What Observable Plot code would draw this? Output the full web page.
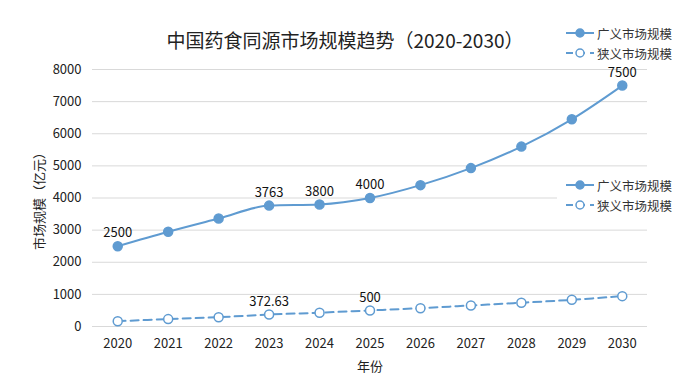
<!DOCTYPE html>
<html>
<head>
<meta charset="utf-8">
<script src="https://cdn.jsdelivr.net/npm/d3@7"></script>
<script src="https://cdn.jsdelivr.net/npm/@observablehq/plot@0.6"></script>
<style>
  body { margin: 0; background: #fff; }
  #wrap { position: relative; width: 700px; height: 391px; overflow: hidden; background: #fff;
          font-family: "Noto Sans CJK SC", "Noto Sans", sans-serif; color: #333; }
  #title { position: absolute; left: 0; top: 26px; width: 690px; text-align: center;
           font-size: 19px; line-height: 28px; color: #222; }
  #chart { position: absolute; left: 0; top: 55px; }
  .legend { position: absolute; background: #fff; font-size: 12.5px; color: #333; }
  .legend .row { display: flex; align-items: center; height: 20px; }
  .legend svg { margin-right: 2px; }
</style>
</head>
<body>
<div id="wrap">
  <div id="title">中国药食同源市场规模趋势（2020-2030）</div>
  <div id="chart"></div>
  <div class="legend" id="legend1" style="left:563px; top:23px; padding:0 4px 0 2px;"></div>
  <div class="legend" id="legend2" style="left:557px; top:174px; padding:1px 8px 3px 8px;"></div>
</div>
<script>
const years = [2020, 2021, 2022, 2023, 2024, 2025, 2026, 2027, 2028, 2029, 2030];
const broad = [2500, 2950, 3360, 3763, 3800, 4000, 4400, 4930, 5600, 6450, 7500];
const narrow = [165, 230, 290, 372.63, 430, 500, 570, 655, 740, 830, 945];
const broadLabelYears = [2020, 2023, 2024, 2025, 2030];
const narrowLabelYears = [2023, 2025];
const seriesNames = ["广义市场规模", "狭义市场规模"];
const yTicks = [0, 1000, 2000, 3000, 4000, 5000, 6000, 7000, 8000];

const color = "#5f9bd1";
const broadData = years.map((y, i) => ({year: y, value: broad[i]}));
const narrowData = years.map((y, i) => ({year: y, value: narrow[i]}));

const chart = Plot.plot({
  width: 700,
  height: 336,
  marginLeft: 92,
  marginRight: 53,
  marginTop: 14,
  marginBottom: 65,
  style: {fontFamily: '"Noto Sans CJK SC", "Noto Sans", sans-serif', fontSize: "13px", color: "#222", background: "transparent"},
  x: {domain: [2019.5, 2030.5]},
  y: {domain: [0, 8000]},
  marks: [
    Plot.gridY(yTicks, {stroke: "#d9d9d9", strokeOpacity: 1, strokeWidth: 1}),
    Plot.axisX({ticks: years, tickFormat: "d", tickSize: 0, tickPadding: 12, label: "年份", labelAnchor: "center", labelArrow: "none", labelOffset: 44, fill: "#222", fontSize: 13}),
    Plot.axisY({ticks: yTicks, tickFormat: "d", tickSize: 0, tickPadding: 11, label: "市场规模（亿元）", labelAnchor: "center", labelArrow: "none", labelOffset: 58, fill: "#222", fontSize: 13}),
    Plot.line(narrowData, {x: "year", y: "value", stroke: color, strokeWidth: 2, strokeDasharray: "8,5", curve: "catmull-rom"}),
    Plot.dot(narrowData, {x: "year", y: "value", r: 4.5, stroke: color, strokeWidth: 1.5, fill: "white"}),
    Plot.line(broadData, {x: "year", y: "value", stroke: color, strokeWidth: 2, curve: "monotone-x"}),
    Plot.dot(broadData, {x: "year", y: "value", r: 4.5, fill: color, stroke: color}),
    Plot.text(broadData.filter(d => broadLabelYears.includes(d.year)), {x: "year", y: "value", text: d => String(d.value), dy: -13, fill: "#111", fontSize: 13}),
    Plot.text(narrowData.filter(d => narrowLabelYears.includes(d.year)), {x: "year", y: "value", text: d => String(d.value), dy: -13, fill: "#111", fontSize: 13})
  ]
});
document.getElementById("chart").appendChild(chart);

function legendRow(name, hollow) {
  const row = document.createElement("div");
  row.className = "row";
  const dash = hollow ? ' stroke-dasharray="7,5"' : '';
  const fill = hollow ? "white" : color;
  row.innerHTML = `<svg width="30" height="14" viewBox="0 0 30 14">
    <line x1="1" y1="7" x2="29" y2="7" stroke="${color}" stroke-width="2"${dash}></line>
    <circle cx="15" cy="7" r="4" fill="${fill}" stroke="${color}" stroke-width="1.5"></circle>
  </svg><span>${name}</span>`;
  return row;
}
for (const id of ["legend1", "legend2"]) {
  const el = document.getElementById(id);
  el.appendChild(legendRow(seriesNames[0], false));
  el.appendChild(legendRow(seriesNames[1], true));
}
</script>
</body>
</html>
